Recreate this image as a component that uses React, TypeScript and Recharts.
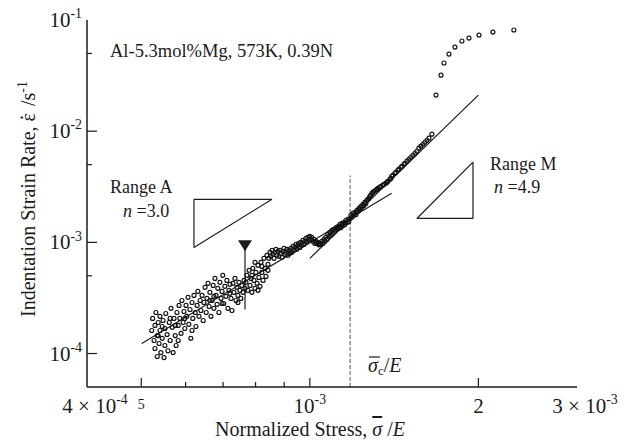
import React from "react";
import {
  ScatterChart,
  Scatter,
  XAxis,
  YAxis,
  ReferenceLine,
  ReferenceDot,
} from "recharts";

const FONT = "'Liberation Serif', 'Times New Roman', Times, serif";
const INK = "#1b1b1b";

// [normalized stress, strain rate], both in units of 1e-4
const bandLow: [number, number][] = [
  [5.22, 1.61], [5.24, 2.07], [5.27, 1.31], [5.29, 1.79], [5.29, 1.11],
  [5.31, 2.34], [5.34, 1.45], [5.34, 0.94], [5.36, 1.9], [5.38, 1.23],
  [5.4, 2.16], [5.4, 1.61], [5.42, 1.02], [5.45, 1.37], [5.47, 1.98],
  [5.49, 0.92], [5.51, 1.68], [5.51, 1.18], [5.53, 2.29], [5.56, 1.48],
  [5.58, 1.06], [5.61, 1.9], [5.63, 1.31], [5.65, 2.55], [5.68, 1.72],
  [5.7, 1.02], [5.72, 2.07], [5.75, 1.45], [5.77, 1.18], [5.79, 2.34],
  [5.82, 1.79], [5.84, 2.71], [5.86, 2.07], [5.89, 1.52], [5.91, 3.0],
  [5.94, 1.9], [5.96, 2.39], [5.98, 1.68], [6.01, 2.71], [6.03, 2.16],
  [6.06, 3.2], [6.08, 1.83], [6.11, 2.49], [6.13, 1.37], [6.16, 2.88],
  [6.18, 2.07], [6.21, 3.33], [6.24, 2.34], [6.26, 1.75], [6.29, 2.71],
  [6.31, 3.62], [6.34, 2.16], [6.37, 3.0], [5.45, 1.75], [5.63, 2.07],
  [5.82, 1.31], [5.98, 2.07], [6.16, 1.61], [5.36, 1.45], [5.75, 1.79],
];

const bandMid: [number, number][] = [
  [6.39, 2.44], [6.42, 3.33], [6.45, 1.98], [6.47, 2.88], [6.5, 3.94],
  [6.53, 2.34], [6.55, 3.13], [6.58, 4.28], [6.61, 2.65], [6.63, 3.55],
  [6.66, 2.16], [6.69, 3.0], [6.72, 4.1], [6.74, 2.55], [6.77, 4.74],
  [6.8, 3.33], [6.83, 2.77], [6.85, 3.86], [6.88, 2.34], [6.91, 4.37],
  [6.94, 3.13], [6.97, 3.62], [6.99, 5.05], [7.02, 2.82], [7.05, 4.02],
  [7.08, 3.27], [7.11, 4.55], [7.14, 2.55], [7.17, 3.7], [7.2, 4.19],
  [7.23, 3.13], [7.26, 2.44], [7.29, 4.28], [7.32, 3.55], [7.35, 4.74],
  [7.38, 3.0], [7.41, 3.94], [7.44, 3.33], [7.47, 4.37], [7.5, 3.7],
  [7.53, 3.13], [7.56, 4.1], [7.6, 3.55], [7.63, 4.55], [7.66, 3.86],
  [6.74, 3.27], [6.97, 2.82], [7.2, 3.48], [7.44, 2.88], [6.63, 3.0],
];

const bandArrow: [number, number][] = [
  [7.69, 4.37], [7.72, 5.05], [7.75, 3.7], [7.79, 5.6], [7.82, 4.1],
  [7.85, 4.74], [7.88, 3.55], [7.91, 5.84], [7.95, 4.55], [7.98, 3.86],
  [8.01, 5.37], [8.05, 4.28], [8.08, 6.21], [8.11, 4.84], [8.15, 4.02],
  [8.18, 6.61], [8.21, 5.37], [8.25, 4.55], [8.28, 7.18], [8.32, 5.84],
  [8.35, 4.94], [8.38, 7.64], [8.42, 6.34], [8.45, 7.18], [8.49, 8.13],
  [7.88, 5.05], [8.08, 3.7], [8.21, 6.08], [7.98, 6.61], [8.42, 5.6],
];

const bandKnee: [number, number][] = [
  [8.52, 7.48], [8.56, 8.47], [8.59, 7.8], [8.63, 7.18], [8.66, 8.13],
  [8.7, 8.65], [8.73, 7.64], [8.77, 8.3], [8.81, 7.48], [8.84, 8.47],
  [8.88, 7.96], [8.92, 7.33], [8.95, 8.3], [8.99, 8.83], [9.03, 7.8],
  [9.06, 8.13], [9.1, 8.65], [9.14, 7.64], [9.18, 8.47], [9.21, 7.96],
  [9.25, 8.83], [9.29, 8.13], [9.33, 9.2], [9.37, 8.47], [9.41, 9.01],
  [9.45, 9.59], [9.48, 8.65], [9.52, 9.4], [9.56, 9.79], [9.6, 9.01],
  [9.64, 10.0], [9.68, 9.4], [9.72, 10.42], [9.76, 9.59], [9.8, 10.21],
  [9.84, 10.86], [9.88, 10.0], [9.92, 11.09], [9.96, 10.42], [10.0, 11.32],
  [10.04, 10.64], [10.08, 11.09], [10.12, 10.21], [10.17, 10.64], [10.21, 9.79],
  [10.25, 10.21], [10.29, 9.79], [10.34, 10.0], [10.38, 9.5], [10.42, 9.79],
  [10.46, 9.6], [10.51, 10.21], [10.55, 9.79], [10.6, 10.64], [10.64, 10.21],
  [10.68, 11.09], [10.73, 10.64], [10.77, 11.8], [10.82, 11.32], [10.86, 12.3],
  [10.91, 11.56], [10.95, 12.8], [11.0, 12.05], [11.04, 13.1], [11.09, 12.56],
  [11.14, 13.6], [11.18, 13.1], [11.23, 13.9], [11.27, 13.4], [11.32, 14.5],
  [11.37, 13.6], [11.41, 14.8], [11.46, 14.2], [11.51, 15.1], [11.55, 14.5],
  [11.6, 15.8], [11.65, 15.1], [11.7, 16.1], [11.74, 15.4], [11.79, 16.4],
];

const bandRangeM: [number, number][] = [
  [11.84, 17.5], [11.89, 16.8], [11.94, 18.2], [11.99, 17.5], [12.04, 18.6],
  [12.09, 17.8], [12.14, 19.4], [12.19, 19.0], [12.24, 20.2], [12.29, 19.8],
  [12.34, 21.1], [12.39, 20.6], [12.44, 22.0], [12.49, 21.5], [12.54, 22.9],
  [12.59, 22.4], [12.64, 23.9], [12.7, 24.4], [12.75, 24.9], [12.8, 25.9],
  [12.85, 26.5], [12.91, 27.6], [12.96, 28.2], [13.01, 28.8], [13.12, 29.4],
  [13.17, 30.0], [13.23, 30.6], [13.34, 31.3], [13.39, 31.9], [13.5, 32.6],
  [13.56, 33.3], [13.67, 34.0], [13.73, 34.7], [13.78, 35.4], [13.9, 36.9],
  [13.96, 37.7], [14.01, 39.3], [14.07, 40.1], [14.19, 41.8], [14.25, 42.7],
  [14.36, 44.5], [14.43, 45.5], [14.55, 47.4], [14.61, 48.4], [14.73, 50.4],
  [14.79, 51.5], [14.91, 53.7], [15.03, 55.9], [15.15, 58.3], [15.28, 60.8],
  [15.41, 63.3], [15.53, 66.0], [15.66, 70.3], [15.79, 73.3], [15.92, 76.3],
  [16.05, 79.5], [16.19, 82.9], [16.32, 86.5], [16.52, 94.0],
];

const tailPoints: [number, number][] = [
  [16.8, 211], [17.15, 319], [17.36, 410], [17.72, 494], [18.16, 571],
  [18.69, 647], [19.24, 688], [20.05, 732], [21.23, 779], [23.14, 813],
];

const toPoint = ([s, r]: [number, number]) => ({ stress: s * 1e-4, rate: r * 1e-4 });
const points = [...bandLow, ...bandMid, ...bandArrow, ...bandKnee, ...bandRangeM, ...tailPoints].map(toPoint);

// fitted power-law lines, [stress, rate]
const rangeAFit = [[5.01e-4, 1.23e-4], [1.40e-3, 2.76e-3]];
const rangeMFit = [[1.0e-3, 7.18e-4], [2.0e-3, 2.11e-2]];
const criticalStress = 1.18e-3;
const criticalTop = 4.0e-3;

// slope triangles
const triangleA = [[6.21e-4, 2.44e-3], [8.56e-4, 2.44e-3], [6.21e-4, 9.01e-4]];
const triangleM = [[1.553e-3, 1.64e-3], [1.956e-3, 1.64e-3], [1.956e-3, 5.26e-3]];

// marker: stress, top and bottom of its stem
const markerStress = 7.66e-4;
const markerTop = 9.4e-4;
const markerBottom = 2.49e-4;

const xTicks = [4e-4, 5e-4, 6e-4, 7e-4, 8e-4, 9e-4, 1e-3, 2e-3, 3e-3];
const xTickLabels = ["4 × 10^-4", "5", "", "", "", "", "10^-3", "2", "3 × 10^-3"];
const yTicks = [5e-5, 1e-4, 5e-4, 1e-3, 5e-3, 1e-2, 5e-2, 1e-1];
const yTickLabels = ["", "10^-4", "", "10^-3", "", "10^-2", "", "10^-1"];

function SupLabel({ x, y, text, size, anchor }: any) {
  const [base, exp] = text.split("^");
  return (
    <text x={x} y={y} textAnchor={anchor} fontFamily={FONT} fontSize={size} fill={INK}>
      {base}
      {exp && (
        <tspan dy={-size * 0.42} fontSize={size * 0.66}>
          {exp}
        </tspan>
      )}
    </text>
  );
}

const xTick = (side: "bottom" | "top") => (props: any) => {
  const { x, y, index } = props;
  const label = xTickLabels[index];
  const edge = index === 0 || index === xTicks.length - 1;
  const len = label ? 9 : 5;
  const dir = side === "bottom" ? -1 : 1;
  return (
    <g>
      {!edge && <line x1={x} y1={y} x2={x} y2={y + dir * len} stroke={INK} strokeWidth={1.2} />}
      {side === "bottom" && label && (
        <SupLabel
          x={edge ? x + 8 : x}
          y={label === "5" ? y + 22 : y + 26}
          text={label}
          size={label === "5" ? 14 : 21}
          anchor="middle"
        />
      )}
    </g>
  );
};

const yTick = (side: "left" | "right") => (props: any) => {
  const { x, y, index } = props;
  const label = yTickLabels[index];
  const edge = index === 0 || index === yTicks.length - 1;
  const len = label ? 10 : 5;
  const dir = side === "left" ? 1 : -1;
  return (
    <g>
      {!edge && <line x1={x} y1={y} x2={x + dir * len} y2={y} stroke={INK} strokeWidth={1.2} />}
      {side === "left" && label && (
        <SupLabel x={x - 5} y={y + 7} text={label} size={21} anchor="end" />
      )}
    </g>
  );
};

const seg = (a: number[], b: number[]) => [
  { x: a[0], y: a[1] },
  { x: b[0], y: b[1] },
];

const lineStyle = { stroke: INK, strokeWidth: 1.2 };

export default function App() {
  return (
    <div style={{ position: "absolute", left: 0, top: 0, width: 633, height: 441, background: "#fff" }}>
      <ScatterChart width={633} height={441} margin={{ top: 20, right: 56, bottom: 0, left: 0 }}>
        <XAxis
          xAxisId="bottom"
          type="number"
          dataKey="stress"
          scale="log"
          domain={[4e-4, 3e-3]}
          allowDataOverflow
          ticks={xTicks}
          interval={0}
          height={54}
          tickSize={0}
          tickMargin={0}
          tickLine={false}
          axisLine={{ stroke: INK, strokeWidth: 1.5 }}
          tick={xTick("bottom")}
        />
        <XAxis
          xAxisId="top"
          orientation="top"
          type="number"
          dataKey="stress"
          scale="log"
          domain={[4e-4, 3e-3]}
          allowDataOverflow
          ticks={xTicks}
          interval={0}
          height={0}
          tickSize={0}
          tickMargin={0}
          tickLine={false}
          axisLine={{ stroke: INK, strokeWidth: 1.5 }}
          tick={xTick("top")}
        />
        <YAxis
          yAxisId="left"
          type="number"
          dataKey="rate"
          scale="log"
          domain={[5e-5, 1e-1]}
          allowDataOverflow
          ticks={yTicks}
          interval={0}
          width={87}
          tickSize={0}
          tickMargin={0}
          tickLine={false}
          axisLine={{ stroke: INK, strokeWidth: 1.5 }}
          tick={yTick("left")}
        />
        <YAxis
          yAxisId="right"
          orientation="right"
          type="number"
          dataKey="rate"
          scale="log"
          domain={[5e-5, 1e-1]}
          allowDataOverflow
          ticks={yTicks}
          interval={0}
          width={0}
          tickSize={0}
          tickMargin={0}
          tickLine={false}
          axisLine={{ stroke: INK, strokeWidth: 1.5 }}
          tick={yTick("right")}
        />

        <ReferenceLine
          xAxisId="bottom"
          yAxisId="left"
          segment={seg([criticalStress, 5e-5], [criticalStress, criticalTop])}
          stroke="#555"
          strokeWidth={1}
          strokeDasharray="4 2"
        />
        <ReferenceLine xAxisId="bottom" yAxisId="left" segment={seg(rangeAFit[0], rangeAFit[1])} {...lineStyle} />
        <ReferenceLine xAxisId="bottom" yAxisId="left" segment={seg(rangeMFit[0], rangeMFit[1])} {...lineStyle} />
        {[triangleA, triangleM].map((tri, t) =>
          tri.map((p, i) => (
            <ReferenceLine
              key={`tri-${t}-${i}`}
              xAxisId="bottom"
              yAxisId="left"
              segment={seg(p, tri[(i + 1) % tri.length])}
              {...lineStyle}
            />
          ))
        )}
        <ReferenceLine
          xAxisId="bottom"
          yAxisId="left"
          segment={seg([markerStress, markerTop], [markerStress, markerBottom])}
          {...lineStyle}
        />
        <ReferenceDot
          xAxisId="bottom"
          yAxisId="left"
          x={markerStress}
          y={markerTop}
          shape={(p: any) => (
            <polygon
              points={`${p.cx - 7},${p.cy - 5} ${p.cx + 7},${p.cy - 5} ${p.cx},${p.cy + 6}`}
              fill={INK}
            />
          )}
        />

        <Scatter
          xAxisId="bottom"
          yAxisId="left"
          data={points}
          isAnimationActive={false}
          shape={(p: any) => (
            <circle cx={p.cx} cy={p.cy} r={2} fill="none" stroke="#111" strokeWidth={1.15} />
          )}
        />
      </ScatterChart>

      <svg
        width={633}
        height={441}
        style={{ position: "absolute", left: 0, top: 0, pointerEvents: "none" }}
        fontFamily={FONT}
        fill={INK}
      >
        <text transform="translate(35 199) rotate(-90)" textAnchor="middle" fontSize={20}>
          Indentation Strain Rate, ε
          <tspan dx={-7} dy={-12}>.</tspan>
          <tspan dx={4} dy={12}> /s</tspan>
          <tspan dy={-8} fontSize={14}>-1</tspan>
        </text>
        <text x={310} y={436} textAnchor="middle" fontSize={20}>
          Normalized Stress,{" "}
          <tspan fontStyle="italic" textDecoration="overline">σ</tspan> /
          <tspan fontStyle="italic">E</tspan>
        </text>
        <text x={110} y={57} fontSize={18.5}>
          Al-5.3mol%Mg, 573K, 0.39N
        </text>
        <text x={110} y={193} fontSize={18}>
          Range A
        </text>
        <text x={123} y={217} fontSize={18}>
          <tspan fontStyle="italic">n</tspan> =3.0
        </text>
        <text x={490} y={170} fontSize={18}>
          Range M
        </text>
        <text x={494} y={193} fontSize={18}>
          <tspan fontStyle="italic">n</tspan> =4.9
        </text>
        <text x={368} y={372} fontSize={20}>
          <tspan fontStyle="italic">σ</tspan>
          <tspan fontSize={13} dy={3}>c</tspan>
          <tspan dy={-3}>/</tspan>
          <tspan fontStyle="italic">E</tspan>
        </text>
        <line x1={369} y1={357} x2={380} y2={357} stroke={INK} strokeWidth={1.2} />
      </svg>
    </div>
  );
}
